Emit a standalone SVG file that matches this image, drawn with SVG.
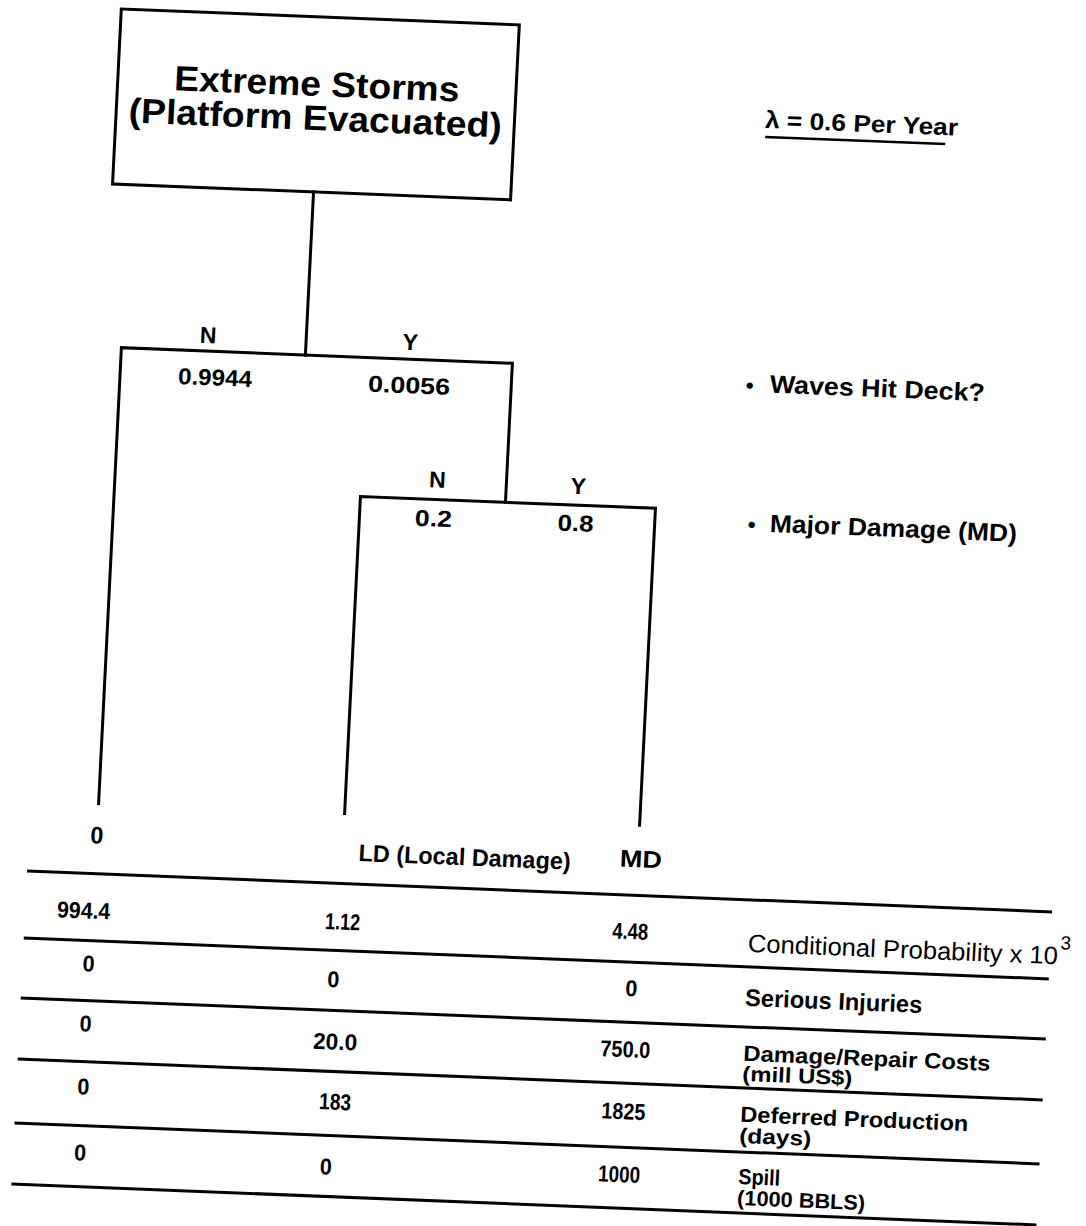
<svg xmlns="http://www.w3.org/2000/svg" width="1086" height="1226" viewBox="0 0 1086 1226">
<style>
.ln{stroke:#000;stroke-width:3;fill:none;stroke-linecap:square;stroke-linejoin:miter}
.tl{stroke:#000;stroke-width:3;fill:none}
.b{font-family:"Liberation Sans",Arial,sans-serif;font-weight:bold;fill:#000}
.r{font-family:"Liberation Sans",Arial,sans-serif;font-weight:normal;fill:#000}
.m{text-anchor:middle}
</style>
<rect width="1086" height="1226" fill="#fff"/>
<g transform="matrix(1 0.04 -0.05 1 30.65 -21.72)">
  <g id="node-root">
    <rect class="ln" x="92" y="27" width="398" height="175"/>
    <text class="b m" x="291" y="106" font-size="35" textLength="285" lengthAdjust="spacingAndGlyphs">Extreme Storms</text>
    <text class="b m" x="291" y="140" font-size="35" textLength="373" lengthAdjust="spacingAndGlyphs">(Platform Evacuated)</text>
  </g>
  <g id="rate">
    <text class="b" x="740" y="120" font-size="24" textLength="193" lengthAdjust="spacingAndGlyphs">λ = 0.6 Per Year</text>
    <line x1="741" y1="129" x2="921" y2="129" stroke="#000" stroke-width="2.5"/>
  </g>
  <g id="connectors">
    <path class="ln" d="M293,202 V365"/>
    <path class="ln" d="M109,821 V365 H500 V504"/>
    <path class="ln" d="M355,821 V504 H650 V821"/>
  </g>
  <g id="node-waves">
    <text class="b m" x="195" y="357" font-size="23">N</text>
    <text class="b m" x="397" y="356" font-size="23">Y</text>
    <text class="b m" x="204" y="399" font-size="23" textLength="74" lengthAdjust="spacingAndGlyphs">0.9944</text>
    <text class="b m" x="398" y="399" font-size="23" textLength="82" lengthAdjust="spacingAndGlyphs">0.0056</text>
    <text class="b m" x="738" y="385" font-size="22">•</text>
    <text class="b" x="758" y="384" font-size="25" textLength="215" lengthAdjust="spacingAndGlyphs">Waves Hit Deck?</text>
  </g>
  <g id="node-damage">
    <text class="b m" x="431" y="492" font-size="23">N</text>
    <text class="b m" x="572" y="493" font-size="23">Y</text>
    <text class="b m" x="429" y="531" font-size="23" textLength="37" lengthAdjust="spacingAndGlyphs">0.2</text>
    <text class="b m" x="571" y="530" font-size="23" textLength="36" lengthAdjust="spacingAndGlyphs">0.8</text>
    <text class="b m" x="747" y="524" font-size="22">•</text>
    <text class="b" x="765" y="523" font-size="25" textLength="247" lengthAdjust="spacingAndGlyphs">Major Damage (MD)</text>
  </g>
  <g id="node-leaf-0">
    <text class="b m" x="109" y="861" font-size="24" textLength="13" lengthAdjust="spacingAndGlyphs">0</text>
  </g>
  <g id="node-leaf-ld">
    <text class="b" x="371" y="868" font-size="24" textLength="212" lengthAdjust="spacingAndGlyphs">LD (Local Damage)</text>
  </g>
  <g id="node-leaf-md">
    <text class="b" x="632" y="863" font-size="24" textLength="42" lengthAdjust="spacingAndGlyphs">MD</text>
  </g>
  <g id="table">
    <line class="tl" x1="41" y1="891" x2="1066" y2="891"/>
    <line class="tl" x1="41" y1="958" x2="1066" y2="958"/>
    <line class="tl" x1="41" y1="1018" x2="1066" y2="1018"/>
    <line class="tl" x1="41" y1="1079" x2="1066" y2="1079"/>
    <line class="tl" x1="41" y1="1143" x2="1066" y2="1143"/>
    <line class="tl" x1="41" y1="1204" x2="1066" y2="1204"/>

    <text class="b" x="73" y="936" font-size="23" textLength="53" lengthAdjust="spacingAndGlyphs">994.4</text>
    <text class="b" x="341" y="937" font-size="23" textLength="35" lengthAdjust="spacingAndGlyphs">1.12</text>
    <text class="b" x="628" y="935" font-size="23" textLength="36" lengthAdjust="spacingAndGlyphs">4.48</text>
    <text class="r" x="764" y="943" font-size="25" textLength="310" lengthAdjust="spacingAndGlyphs">Conditional Probability x 10</text>
    <text class="r" x="1076" y="928" font-size="19">3</text>

    <text class="b m" x="107" y="989" font-size="23" textLength="12" lengthAdjust="spacingAndGlyphs">0</text>
    <text class="b m" x="352" y="995" font-size="23" textLength="12" lengthAdjust="spacingAndGlyphs">0</text>
    <text class="b m" x="650" y="992" font-size="23" textLength="12" lengthAdjust="spacingAndGlyphs">0</text>
    <text class="b" x="764" y="997" font-size="24" textLength="177" lengthAdjust="spacingAndGlyphs">Serious Injuries</text>

    <text class="b m" x="107" y="1049" font-size="23" textLength="12" lengthAdjust="spacingAndGlyphs">0</text>
    <text class="b" x="335" y="1057" font-size="23" textLength="44" lengthAdjust="spacingAndGlyphs">20.0</text>
    <text class="b" x="622" y="1053" font-size="23" textLength="50" lengthAdjust="spacingAndGlyphs">750.0</text>
    <text class="b" x="765" y="1052" font-size="22" textLength="247" lengthAdjust="spacingAndGlyphs">Damage/Repair Costs</text>
    <text class="b" x="765" y="1072" font-size="21" textLength="110" lengthAdjust="spacingAndGlyphs">(mill US$)</text>

    <text class="b m" x="108" y="1112" font-size="23" textLength="12" lengthAdjust="spacingAndGlyphs">0</text>
    <text class="b m" x="360" y="1117" font-size="23" textLength="32" lengthAdjust="spacingAndGlyphs">183</text>
    <text class="b" x="626" y="1115" font-size="23" textLength="44" lengthAdjust="spacingAndGlyphs">1825</text>
    <text class="b" x="765" y="1113" font-size="22" textLength="228" lengthAdjust="spacingAndGlyphs">Deferred Production</text>
    <text class="b" x="765" y="1134" font-size="21" textLength="72" lengthAdjust="spacingAndGlyphs">(days)</text>

    <text class="b m" x="108" y="1178" font-size="23" textLength="12" lengthAdjust="spacingAndGlyphs">0</text>
    <text class="b m" x="354" y="1182" font-size="23" textLength="12" lengthAdjust="spacingAndGlyphs">0</text>
    <text class="b" x="626" y="1178" font-size="23" textLength="42" lengthAdjust="spacingAndGlyphs">1000</text>
    <text class="b" x="766" y="1175" font-size="22" textLength="42" lengthAdjust="spacingAndGlyphs">Spill</text>
    <text class="b" x="766" y="1196" font-size="21" textLength="128" lengthAdjust="spacingAndGlyphs">(1000 BBLS)</text>
  </g>
</g>
</svg>
